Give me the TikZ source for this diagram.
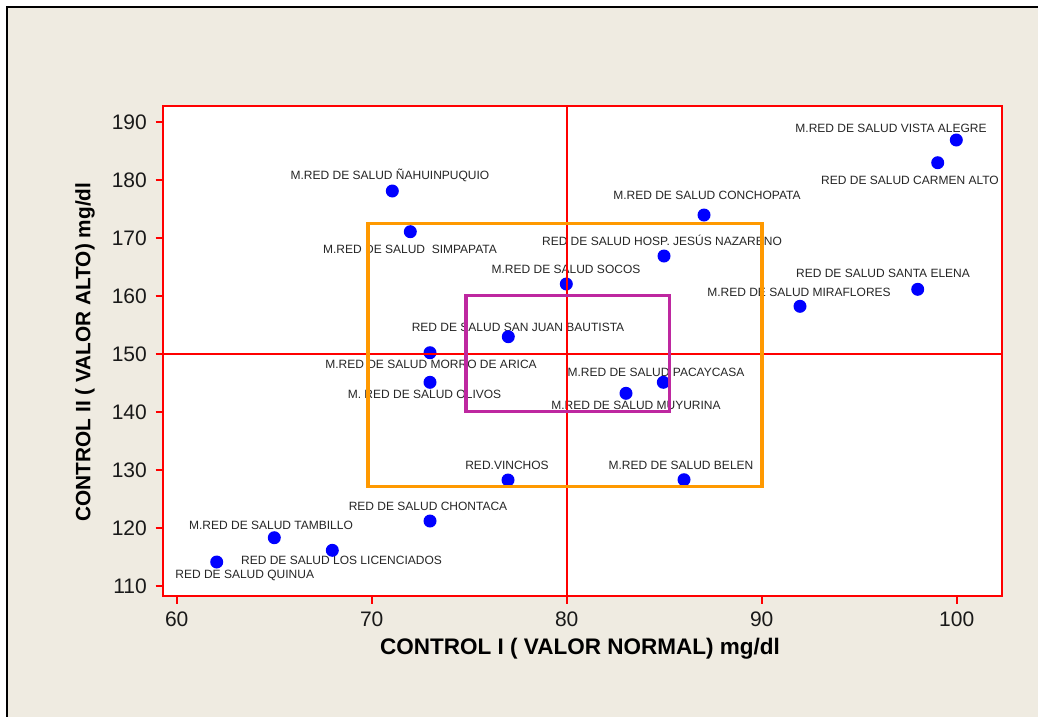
\documentclass[tikz,border=0pt]{standalone}
\usepackage{fontspec}
\setmainfont{Liberation Sans}
\begin{document}
\begin{tikzpicture}[x=1pt,y=-1pt,
  lbl/.style={inner sep=0pt,font=\fontsize{12}{13}\selectfont,text=black!85},
  dot/.style={circle,fill=blue,inner sep=0pt,minimum size=13pt},
  tick/.style={red,line width=2pt},
  ticklbl/.style={inner sep=0pt,font=\fontsize{21}{22}\selectfont,text=black!90},
  axtitle/.style={inner sep=0pt,font=\bfseries\fontsize{22.5}{24}\selectfont},
  refline/.style={red,line width=2pt},
  zoneA/.style={draw=zorange,line width=3.5pt},
  zoneB/.style={draw=zmag,line width=3.5pt}]
\definecolor{bg}{RGB}{239,235,225}
\definecolor{zorange}{RGB}{255,153,0}
\definecolor{zmag}{RGB}{190,40,160}
\useasboundingbox (0,0) rectangle (1038,716);
\fill[white] (0,0) rectangle (1038,716);
\fill[bg] (7,6.5) rectangle (1040,720);
\draw[black,line width=2pt] (7,720) -- (7,6.5) -- (1040,6.5);
% plot area
\draw[red,line width=2pt,fill=white] (162.7,105.7) rectangle (1002.3,595.7);
% y ticks
\foreach \v/\p in {190/122.3,180/180.3,170/238.2,160/296.2,150/354.1,140/412.1,130/470.1,120/528.0,110/586.0}{
  \draw[tick] (155.5,\p) -- (162.7,\p);
  \node[ticklbl,anchor=east] (yt\v) at (147,\p) {\v};
}
% x ticks
\foreach \v/\p in {60/176.7,70/371.7,80/566.7,90/761.7,100/956.7}{
  \draw[tick] (\p,595.7) -- (\p,603.5);
  \node[ticklbl,anchor=center] (xt\v) at (\p,619.5) {\v};
}
% axis titles
\node[axtitle] (xtitle) at (580,649) {CONTROL I ( VALOR NORMAL) mg/dl};
\node[inner sep=0pt,font=\bfseries\fontsize{20.8}{22}\selectfont,rotate=90] (ytitle) at (85,352) {CONTROL II ( VALOR ALTO) mg/dl};
% labels
\node[lbl] (lVA) at (891,128.3) {M.RED DE SALUD VISTA ALEGRE};
\node[lbl] (lCA) at (910,180) {RED DE SALUD CARMEN ALTO};
\node[lbl] (lCO) at (707,195) {M.RED DE SALUD CONCHOPATA};
\node[lbl] (lJN) at (662,240.7) {RED DE SALUD HOSP. JESÚS NAZARENO};
\node[lbl] (lSO) at (566,269) {M.RED DE SALUD SOCOS};
\node[lbl] (lSE) at (883,273.3) {RED DE SALUD SANTA ELENA};
\node[lbl] (lMI) at (799,292.3) {M.RED DE SALUD MIRAFLORES};
\node[lbl] (lNA) at (390,175.7) {M.RED DE SALUD ÑAHUINPUQUIO};
\node[lbl] (lSI) at (410,249) {M.RED DE SALUD\ \ SIMPAPATA};
\node[lbl] (lSJ) at (518,327.3) {RED DE SALUD SAN JUAN BAUTISTA};
\node[lbl] (lMA) at (431,364) {M.RED DE SALUD MORRO DE ARICA};
\node[lbl] (lOL) at (424.5,394.3) {M. RED DE SALUD OLIVOS};
\node[lbl] (lPA) at (656,372.3) {M.RED DE SALUD PACAYCASA};
\node[lbl] (lMU) at (636,405.7) {M.RED DE SALUD MUYURINA};
\node[lbl] (lVI) at (507,465) {RED.VINCHOS};
\node[lbl] (lBE) at (681,465) {M.RED DE SALUD BELEN};
\node[lbl] (lCH) at (428,506) {RED DE SALUD CHONTACA};
\node[lbl] (lTA) at (271,525.7) {M.RED DE SALUD TAMBILLO};
\node[lbl] (lLL) at (341.5,560) {RED DE SALUD LOS LICENCIADOS};
\node[lbl] (lQU) at (244.7,575.7) {RED DE SALUD QUINUA};
% dots
\node[dot] (dVA) at (956.3,140) {};
\node[dot] (dCA) at (937.7,162.7) {};
\node[dot] (dCO) at (704,215) {};
\node[dot] (dJN) at (664,256) {};
\node[dot] (dSO) at (566.3,284) {};
\node[dot] (dSE) at (917.7,289.3) {};
\node[dot] (dMI) at (800,306.3) {};
\node[dot] (dNA) at (392.3,191) {};
\node[dot] (dSI) at (410.3,231.7) {};
\node[dot] (dSJ) at (508.3,336.7) {};
\node[dot] (dMA) at (430,352.7) {};
\node[dot] (dOL) at (430,382.3) {};
\node[dot] (dPA) at (663.3,382.3) {};
\node[dot] (dMU) at (626,393.3) {};
\node[dot] (dVI) at (508,480) {};
\node[dot] (dBE) at (684,479.7) {};
\node[dot] (dCH) at (430,521) {};
\node[dot] (dTA) at (274.3,537.7) {};
\node[dot] (dLL) at (332.3,550.3) {};
\node[dot] (dQU) at (216.7,562) {};
% reference lines
\draw[refline] (566.7,105.7) -- (566.7,595.7);
\draw[refline] (162.7,353.5) -- (1002.3,353.5);
% zones
\draw[zoneA] (368,223.5) rectangle (762,486.5);
\draw[zoneB] (466,295.3) rectangle (669.3,411.5);
\end{tikzpicture}
\end{document}
